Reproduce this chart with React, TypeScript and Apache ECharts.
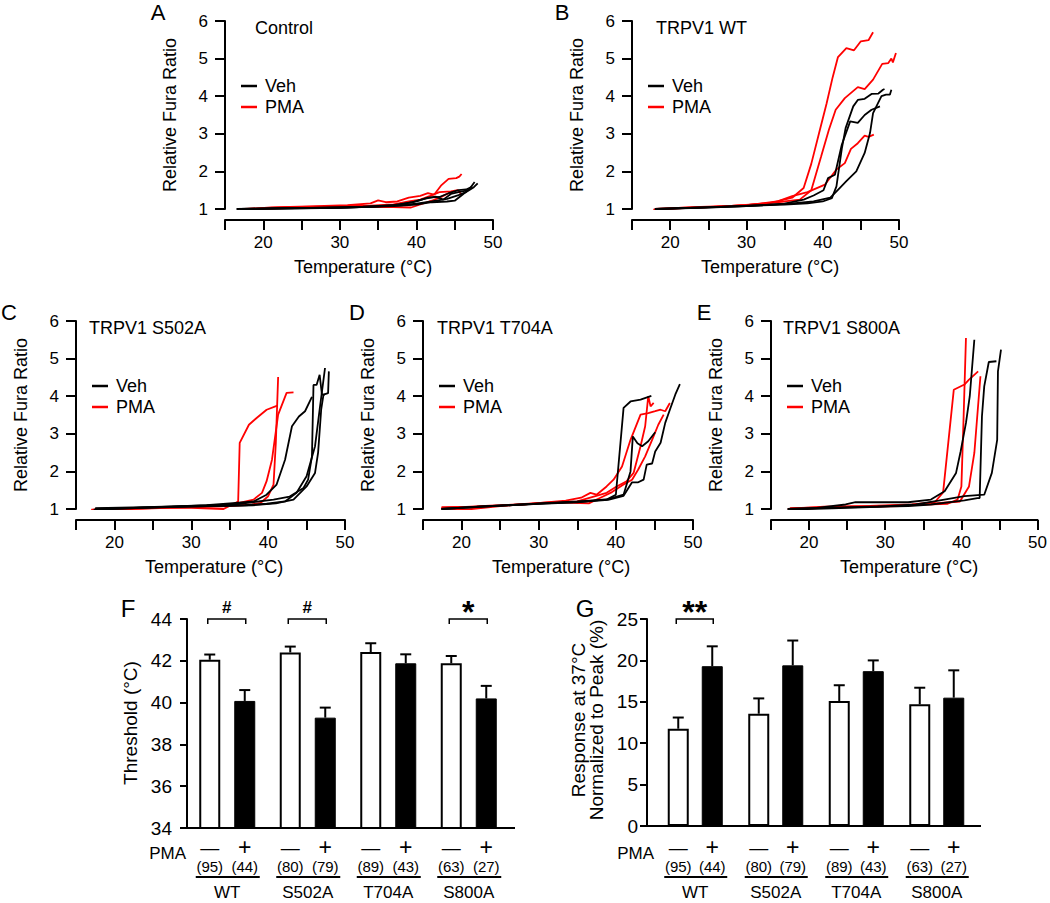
import React, { useEffect, useRef } from 'react';
import * as echarts from 'echarts';

// ---------------- DATA ----------------
// Temperature-response traces: [temperature (°C), relative Fura ratio]
const A_VEH: number[][][] = [
  [[16.5, 1.0], [20, 1.01], [25, 1.02], [30, 1.03], [35, 1.07], [38, 1.1], [40, 1.14], [42, 1.2], [44, 1.27], [45.5, 1.37], [46.5, 1.45], [47.5, 1.58], [48, 1.68]],
  [[17, 1.0], [22, 1.02], [28, 1.03], [33, 1.05], [37, 1.08], [40, 1.12], [42, 1.18], [44, 1.2], [45, 1.22], [46, 1.38], [47, 1.55], [47.6, 1.72]],
  [[17, 1.0], [24, 1.02], [31, 1.04], [35, 1.07], [38, 1.12], [40, 1.2], [41.5, 1.3], [43, 1.32], [44.2, 1.42], [45.5, 1.5], [46.5, 1.52], [47.3, 1.6]],
  [[17, 1.0], [26, 1.03], [33, 1.06], [37, 1.1], [39.5, 1.18], [41, 1.27], [42.5, 1.33], [43.5, 1.25], [44.5, 1.4], [45.5, 1.45], [46.8, 1.5]],
];
const A_PMA: number[][][] = [
  [[18, 1.0], [21, 1.04], [26, 1.07], [31, 1.1], [34, 1.15], [35, 1.23], [36, 1.18], [37.5, 1.2], [39, 1.3], [40.5, 1.35], [41.5, 1.42], [42.3, 1.38], [43.2, 1.62], [44.2, 1.8], [45.2, 1.82], [45.6, 1.86], [45.9, 1.93]],
  [[17.5, 1.0], [23, 1.05], [29, 1.07], [34, 1.09], [37, 1.12], [39, 1.2], [40.5, 1.25], [41.8, 1.35], [43, 1.45], [44.5, 1.47], [45.4, 1.5], [45.9, 1.38]],
  [[19, 1.0], [24, 1.03], [30, 1.05], [35, 1.05], [37, 1.05], [39.3, 1.04], [40.5, 1.12], [42, 1.22], [43.3, 1.33], [44.2, 1.42], [44.8, 1.43]],
];
const B_VEH: number[][][] = [
  [[18.3, 1.0], [25, 1.05], [30, 1.08], [35, 1.12], [38, 1.15], [40, 1.2], [41.2, 1.29], [41.8, 1.6], [42.5, 2.6], [43, 3.15], [44, 3.73], [44.6, 3.9], [45.5, 3.93], [46.4, 4.06], [47.3, 4.07], [47.9, 4.17], [48.1, 4.19]],
  [[18, 1.0], [25, 1.04], [30, 1.08], [35, 1.14], [37.5, 1.25], [38.8, 1.36], [40.1, 1.5], [40.7, 1.82], [41.6, 1.91], [42.5, 2.71], [43.6, 3.33], [44.6, 3.29], [45.5, 3.5], [46.4, 3.64], [47.5, 3.73]],
  [[18, 1.0], [26, 1.05], [32, 1.1], [36, 1.15], [38.8, 1.2], [41, 1.3], [42, 1.51], [43.1, 1.74], [44.4, 2.0], [45.5, 2.49], [46.2, 3.02], [46.6, 3.55], [47.7, 4.0], [48.3, 4.04], [48.8, 4.04], [49, 4.17]],
];
const B_PMA: number[][][] = [
  [[17.8, 0.98], [22, 1.04], [28, 1.08], [33, 1.15], [36, 1.3], [37.5, 1.56], [38.5, 2.2], [39.5, 3.0], [40.5, 3.8], [41.3, 4.5], [42, 5.04], [43.1, 5.28], [44.1, 5.22], [45, 5.46], [46, 5.49], [46.6, 5.7]],
  [[18, 1.0], [24, 1.04], [30, 1.1], [35, 1.2], [37, 1.25], [38.5, 1.5], [39.8, 2.4], [40.8, 3.1], [41.7, 3.64], [42.9, 3.95], [44.6, 4.24], [45.5, 4.19], [46.6, 4.44], [47.8, 4.86], [48.6, 4.88], [49, 5.0], [49.2, 4.9], [49.6, 5.15]],
  [[18, 1.0], [25, 1.05], [30, 1.1], [34, 1.2], [36, 1.34], [38, 1.45], [40.3, 1.65], [41.8, 2.05], [42.9, 2.22], [43.7, 2.6], [44.6, 2.75], [45.5, 2.95], [46, 2.92], [46.7, 2.98]],
];
const C_VEH: number[][][] = [
  [[17.3, 0.98], [22, 1.02], [27, 1.06], [32, 1.1], [35, 1.15], [38.1, 1.2], [39.8, 1.38], [41.1, 1.65], [42.2, 2.31], [43.1, 3.2], [44, 3.46], [44.8, 3.6], [45.7, 3.98]],
  [[17.5, 1.02], [24, 1.05], [30, 1.08], [35.5, 1.12], [40.7, 1.25], [42.8, 1.33], [44.6, 1.56], [45.2, 1.78], [45.7, 2.4], [45.9, 4.3], [46.3, 4.3], [46.7, 4.57], [47, 4.04], [47.4, 4.04]],
  [[17.5, 1.0], [25, 1.04], [32, 1.08], [37, 1.1], [39.8, 1.14], [42.2, 1.2], [43.7, 1.43], [45, 1.87], [46.1, 2.67], [46.7, 3.64], [47.4, 4.75]],
  [[17.5, 1.0], [26, 1.05], [33, 1.08], [38, 1.1], [41, 1.15], [43.3, 1.25], [45, 1.6], [46.1, 1.96], [46.5, 2.5], [46.9, 3.64], [47.2, 4.04], [47.8, 4.08], [47.9, 4.66]],
];
const C_PMA: number[][][] = [
  [[17, 0.97], [22, 1.0], [26.8, 1.03], [30, 1.03], [34.2, 1.0], [36.1, 1.2], [36.3, 2.76], [37.5, 3.24], [38.5, 3.42], [39.8, 3.64], [41.2, 3.75]],
  [[17, 0.98], [24, 1.02], [31.1, 1.07], [35, 1.1], [38.1, 1.25], [39.2, 1.43], [39.8, 1.74], [40.5, 2.31], [41.3, 3.51], [42.4, 4.09], [43.3, 4.1]],
  [[17.3, 0.98], [25, 1.03], [31, 1.05], [35, 1.08], [37.9, 1.12], [39, 1.16], [40, 1.34], [40.7, 1.65], [41, 2.76], [41.3, 4.51]],
];
const D_VEH: number[][][] = [
  [[17.4, 1.0], [22, 1.06], [26, 1.1], [30.2, 1.15], [35, 1.2], [38.8, 1.25], [40, 1.38], [41, 3.69], [41.9, 3.86], [43.2, 3.91], [44.6, 4.01]],
  [[17.4, 1.0], [23, 1.07], [30, 1.14], [35, 1.18], [39, 1.26], [41, 1.38], [41.9, 2.0], [42.2, 2.93], [42.8, 2.75], [43.4, 2.67], [44.2, 2.8], [45.1, 3.04]],
  [[17.4, 1.0], [24, 1.08], [31, 1.15], [36, 1.2], [39, 1.24], [41, 1.35], [42.1, 1.71], [42.9, 1.71], [43.6, 1.78], [44, 2.18], [44.7, 2.21], [45.1, 2.53], [45.8, 2.76], [46.4, 3.29], [47, 3.64], [47.7, 4.04], [48.3, 4.32]],
];
const D_PMA: number[][][] = [
  [[17.4, 1.05], [22, 1.06], [28, 1.12], [33.5, 1.22], [35.5, 1.3], [36.7, 1.43], [37.5, 1.38], [38.8, 1.6], [39.7, 1.78], [40.8, 2.13], [41.9, 2.84], [43.2, 3.51], [44.2, 3.55], [45.1, 3.6], [45.8, 3.64], [46.4, 3.6], [47, 3.82]],
  [[17.4, 1.02], [20.5, 0.98], [25, 1.08], [30, 1.15], [35, 1.2], [38.8, 1.43], [40.1, 1.6], [41.4, 1.74], [42.3, 1.96], [43.2, 2.67], [43.8, 3.2], [44.2, 4.0], [44.5, 3.73], [44.9, 3.82]],
  [[17.4, 1.02], [25, 1.1], [32, 1.18], [36.5, 1.15], [38, 1.3], [39.5, 1.45], [41, 1.65], [42.1, 1.78], [42.9, 2.05], [43.8, 2.4], [44.7, 2.84], [45.5, 3.24], [46.2, 3.51]],
];
const E_VEH: number[][][] = [
  [[17.2, 1.0], [21, 1.03], [24.8, 1.12], [26.1, 1.18], [30, 1.18], [33, 1.18], [36, 1.25], [37.8, 1.47], [39.3, 1.96], [39.9, 2.53], [40.6, 3.29], [41.1, 4.0], [41.7, 5.5]],
  [[17.2, 1.0], [22, 1.03], [28, 1.06], [33, 1.08], [36, 1.12], [40.4, 1.23], [42.1, 1.29], [42.4, 1.29], [42.7, 3.46], [43, 4.26], [43.6, 4.91], [44.6, 4.93]],
  [[17.2, 0.98], [23, 1.02], [29, 1.06], [34, 1.12], [37, 1.22], [40.4, 1.34], [43, 1.38], [44, 1.96], [44.7, 2.84], [44.8, 4.66], [45.2, 5.24]],
];
const E_PMA: number[][][] = [
  [[17.2, 1.0], [22, 1.06], [28, 1.08], [33.5, 1.12], [36.5, 1.18], [37.6, 1.44], [39, 4.17], [40.4, 4.31], [41, 4.44], [42.2, 4.66]],
  [[17.5, 1.02], [23, 1.05], [30, 1.08], [35, 1.12], [38.2, 1.14], [39.5, 1.25], [40, 1.6], [40.3, 3.5], [40.6, 5.55]],
  [[17.5, 1.0], [25, 1.05], [32, 1.08], [36, 1.14], [39.8, 1.2], [41, 1.6], [41.7, 2.49], [42.5, 4.53]],
];

const X_TICKS = [15, 50, 5]; // min, max, step
const Y_TICKS = [1, 6, 1];

const GROUPS = ['WT', 'S502A', 'T704A', 'S800A'];
const N_VEH = [95, 80, 89, 63];
const N_PMA = [44, 79, 43, 27];

const F_VEH = [42.05, 42.4, 42.42, 41.88];
const F_VEH_ERR = [0.25, 0.28, 0.42, 0.35];
const F_PMA = [40.08, 39.28, 41.88, 40.2];
const F_PMA_ERR = [0.52, 0.48, 0.43, 0.6];
const F_SIG = ['#', '#', '', '*'];

const G_VEH = [11.75, 13.56, 15.1, 14.7];
const G_VEH_ERR = [1.35, 1.85, 1.9, 2.0];
const G_PMA = [19.3, 19.4, 18.7, 15.5];
const G_PMA_ERR = [2.4, 3.0, 1.3, 3.3];
const G_SIG = ['**', '', '', ''];

// ---------------- LAYOUT ----------------
const FONT = '"Liberation Sans", Arial, Helvetica, sans-serif';

const LINE_PANELS = [
  { letter: 'A', title: 'Control', veh: A_VEH, pma: A_PMA, left: 225, top: 21, width: 268, letterDx: -67, titleDx: 30 },
  { letter: 'B', title: 'TRPV1 WT', veh: B_VEH, pma: B_PMA, left: 632, top: 21, width: 267, letterDx: -70, titleDx: 24 },
  { letter: 'C', title: 'TRPV1 S502A', veh: C_VEH, pma: C_PMA, left: 76, top: 321, width: 269, letterDx: -67, titleDx: 13 },
  { letter: 'D', title: 'TRPV1 T704A', veh: D_VEH, pma: D_PMA, left: 423, top: 321, width: 270, letterDx: -66, titleDx: 14 },
  { letter: 'E', title: 'TRPV1 S800A', veh: E_VEH, pma: E_PMA, left: 771, top: 321, width: 270, letterDx: -67, titleDx: 12 },
];
const LINE_H = 188;

const BAR_PANELS = [
  {
    letter: 'F', veh: F_VEH, vehErr: F_VEH_ERR, pma: F_PMA, pmaErr: F_PMA_ERR, sig: F_SIG,
    left: 187, top: 619, width: 322, height: 209, axisStart: 187, axisEnd: 515, off: 17.5,
    min: 34, max: 44, interval: 2, yOffset: 0, labelMargin: 15, letterX: 128, pmaRight: 186,
    names: [{ text: 'Threshold (°C)', x: 130, y: 723 }],
  },
  {
    letter: 'G', veh: G_VEH, vehErr: G_VEH_ERR, pma: G_PMA, pmaErr: G_PMA_ERR, sig: G_SIG,
    left: 655, top: 619, width: 322, height: 207, axisStart: 647, axisEnd: 981, off: 17,
    min: 0, max: 25, interval: 5, yOffset: 8, labelMargin: 9, letterX: 585, pmaRight: 654,
    names: [
      { text: 'Response at 37°C', x: 578, y: 720 },
      { text: 'Normalized to Peak (%)', x: 596, y: 720 },
    ],
  },
];

function txt(text: string, x: number, y: number, size: number, align = 'center', extra: any = {}) {
  return {
    type: 'text', x, y, silent: true, ...extra,
    style: {
      text, fill: '#000', fontSize: size, fontFamily: FONT,
      align, verticalAlign: 'middle', textAlign: align, textVerticalAlign: 'middle',
      ...(extra.style || {}),
    },
  };
}
function ln(x1: number, y1: number, x2: number, y2: number, color = '#000', w = 2) {
  return { type: 'line', silent: true, shape: { x1, y1, x2, y2 }, style: { stroke: color, lineWidth: w } };
}

function buildOption() {
  const grid: any[] = [];
  const xAxis: any[] = [];
  const yAxis: any[] = [];
  const series: any[] = [];
  const graphic: any[] = [];
  const axisLine = { show: true, onZero: false, lineStyle: { color: '#000', width: 2 } };

  LINE_PANELS.forEach((p, i) => {
    grid.push({ left: p.left, top: p.top, width: p.width, height: LINE_H });
    xAxis.push({
      gridIndex: i, type: 'value', min: X_TICKS[0], max: X_TICKS[1], interval: X_TICKS[2], offset: 11,
      axisLine, axisTick: { show: true, length: 10, lineStyle: { color: '#000', width: 2 } },
      axisLabel: {
        color: '#000', fontSize: 17, fontFamily: FONT, margin: 14,
        formatter: (v: number) => (v % 10 === 0 ? String(v) : ''),
      },
      splitLine: { show: false },
    });
    yAxis.push({
      gridIndex: i, type: 'value', min: Y_TICKS[0], max: Y_TICKS[1], interval: Y_TICKS[2],
      axisLine, axisTick: { show: true, length: 10, lineStyle: { color: '#000', width: 2 } },
      axisLabel: { color: '#000', fontSize: 17, fontFamily: FONT, margin: 17 },
      splitLine: { show: false },
    });
    const add = (traces: number[][][], color: string, name: string) =>
      traces.forEach((t) =>
        series.push({
          type: 'line', name, xAxisIndex: i, yAxisIndex: i, data: t, symbol: 'none', silent: true,
          lineStyle: { color, width: 1.8 }, itemStyle: { color },
        })
      );
    add(p.pma, '#ff0000', 'PMA');
    add(p.veh, '#000000', 'Veh');

    graphic.push(txt(p.letter, p.left + p.letterDx, p.top - 9, 22));
    graphic.push(txt(p.title, p.left + p.titleDx, p.top + 7, 18, 'left'));
    graphic.push(ln(p.left + 16, p.top + 65, p.left + 32, p.top + 65, '#000', 2.5));
    graphic.push(txt('Veh', p.left + 40, p.top + 65, 18, 'left'));
    graphic.push(ln(p.left + 16, p.top + 86, p.left + 32, p.top + 86, '#ff0000', 2.5));
    graphic.push(txt('PMA', p.left + 40, p.top + 86, 18, 'left'));
    graphic.push(txt('Relative Fura Ratio', p.left - 55, p.top + 94, 18, 'center', { rotation: Math.PI / 2 }));
    graphic.push(txt('Temperature (°C)', p.left + 138, p.top + 246, 18));
  });

  BAR_PANELS.forEach((b, k) => {
    const gi = LINE_PANELS.length + k;
    const band = b.width / GROUPS.length;
    const barX = (i: number, s: number) => b.left + band * (i + 0.5) + (s ? b.off : -b.off);
    grid.push({ left: b.left, top: b.top, width: b.width, height: b.height });
    xAxis.push({
      gridIndex: gi, type: 'category', data: GROUPS, axisLine,
      axisTick: { show: false }, axisLabel: { show: false }, splitLine: { show: false },
    });
    yAxis.push({
      gridIndex: gi, type: 'value', min: b.min, max: b.max, interval: b.interval, offset: b.yOffset,
      axisLine, axisTick: { show: true, length: 7, lineStyle: { color: '#000', width: 2 } },
      axisLabel: { color: '#000', fontSize: 19, fontFamily: FONT, margin: b.labelMargin },
      splitLine: { show: false },
    });
    const gapPct = ((2 * b.off - 21) / 21) * 100 + '%';
    series.push({
      type: 'bar', name: 'Veh', xAxisIndex: gi, yAxisIndex: gi, data: b.veh, barWidth: 21, barGap: gapPct,
      silent: true, itemStyle: { color: '#ffffff', borderColor: '#000', borderWidth: 2 },
    });
    series.push({
      type: 'bar', name: 'PMA', xAxisIndex: gi, yAxisIndex: gi, data: b.pma, barWidth: 21, barGap: gapPct,
      silent: true, itemStyle: { color: '#000000', borderColor: '#000', borderWidth: 1 },
    });
    const errSeries = (vals: number[], errs: number[], off: number) => ({
      type: 'custom', xAxisIndex: gi, yAxisIndex: gi, silent: true, z: 5, clip: false,
      encode: { x: 0, y: 1 },
      data: vals.map((v, i) => [i, v, errs[i]]),
      renderItem: (params: any, api: any) => {
        const c = api.value(0);
        const v = api.value(1);
        const e = api.value(2);
        const p0 = api.coord([c, v]);
        const p1 = api.coord([c, v + e]);
        const x = p0[0] + off;
        return {
          type: 'group',
          children: [
            { type: 'line', shape: { x1: x, y1: p0[1], x2: x, y2: p1[1] }, style: { stroke: '#000', lineWidth: 2 } },
            { type: 'line', shape: { x1: x - 5.5, y1: p1[1], x2: x + 5.5, y2: p1[1] }, style: { stroke: '#000', lineWidth: 2 } },
          ],
        };
      },
    });
    series.push(errSeries(b.veh, b.vehErr, -b.off));
    series.push(errSeries(b.pma, b.pmaErr, b.off));

    const bottom = b.top + b.height;
    // axis line extensions to the drawn extent
    if (b.axisStart < b.left) graphic.push(ln(b.axisStart, bottom, b.left, bottom));
    if (b.axisEnd > b.left + b.width) graphic.push(ln(b.left + b.width, bottom, b.axisEnd, bottom));

    graphic.push(txt(b.letter, b.letterX, 608, 24));
    b.names.forEach((n) => graphic.push(txt(n.text, n.x, n.y, 19, 'center', { rotation: Math.PI / 2 })));
    graphic.push(txt('PMA', b.pmaRight, 853, 17, 'right'));
    GROUPS.forEach((g, i) => {
      const x0 = barX(i, 0);
      const x1 = barX(i, 1);
      graphic.push(txt('—', x0, 847, 19));
      graphic.push(txt('+', x1, 847, 23));
      graphic.push(txt(`(${N_VEH[i]})`, x0, 866, 15));
      graphic.push(txt(`(${N_PMA[i]})`, x1, 866, 15));
      graphic.push(ln(x0 - 14, 877, x1 + 15, 877));
      graphic.push(txt(g, b.left + band * (i + 0.5), 892, 17));
      const s = b.sig[i];
      if (s) {
        const bx0 = x0 - 2;
        const bx1 = x1 + 1;
        graphic.push({
          type: 'polyline', silent: true,
          shape: { points: [[bx0, b.top + 5], [bx0, b.top], [bx1, b.top], [bx1, b.top + 5]] },
          style: { stroke: '#000', lineWidth: 1.5, fill: 'none' },
        });
        if (s === '#') graphic.push(txt(s, (bx0 + bx1) / 2, 607, 17, 'center', { style: { fontWeight: 'bold' } }));
        else graphic.push(txt(s, (bx0 + bx1) / 2, 612, 32, 'center', { style: { fontWeight: 'bold' } }));
      }
    });
  });

  return {
    animation: false,
    backgroundColor: '#ffffff',
    grid,
    xAxis,
    yAxis,
    series,
    graphic: { elements: graphic },
  };
}

export default function App() {
  const ref = useRef<HTMLDivElement>(null);
  useEffect(() => {
    const chart = echarts.init(ref.current!, null, { renderer: 'svg' });
    chart.setOption(buildOption() as any);
    return () => chart.dispose();
  }, []);
  return (
    <div
      ref={ref}
      style={{ position: 'absolute', left: 0, top: 0, width: 1050, height: 903, background: '#fff' }}
    />
  );
}
